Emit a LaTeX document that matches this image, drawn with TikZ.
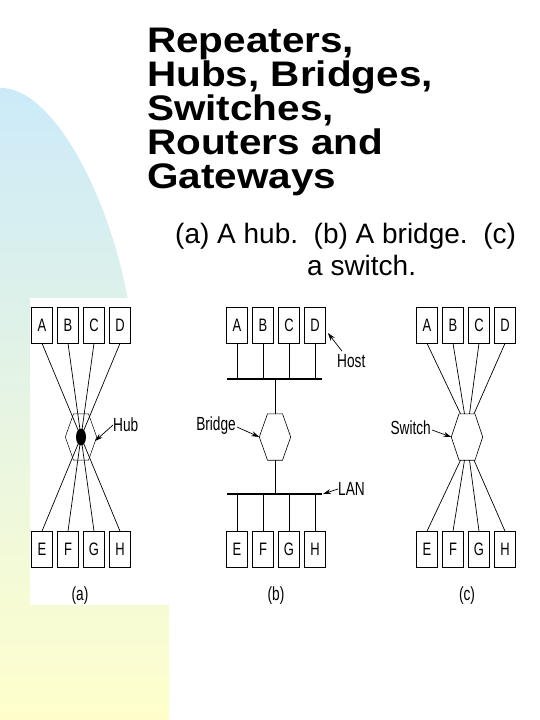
\documentclass[tikz,border=0pt]{standalone}
\usepackage{fontspec}
\setmainfont{Liberation Sans}
\newfontfamily\condfont[FakeStretch=0.72]{Liberation Sans}
\newfontfamily\titlefont[FakeStretch=1.14]{Liberation Sans}
\usetikzlibrary{arrows.meta,calc,shapes.geometric}
\definecolor{bgblue}{RGB}{204,234,250}
\definecolor{bgyellow}{RGB}{255,255,204}
\begin{document}
\begin{tikzpicture}[x=1pt,y=-1pt,
  hostbox/.style={draw,line width=0.7pt,minimum width=21pt,minimum height=36pt,inner sep=0pt,font=\condfont\fontsize{18}{18}\selectfont},
  wire/.style={line width=0.7pt},
  busline/.style={line width=2.6pt},
  lbl/.style={font=\condfont\fontsize{19}{19}\selectfont,inner sep=0pt},
  ptr/.style={line width=0.7pt,-{Stealth[length=8pt,width=5pt]}},
  hexnode/.style={minimum width=31pt,minimum height=46pt,inner sep=0pt},
  hexline/.style={line width=0.6pt},
  titleline/.style={font=\titlefont\bfseries\fontsize{35.5}{35.5}\selectfont,inner sep=0pt,anchor=base west},
  subline/.style={font=\fontsize{28}{28}\selectfont,inner sep=0pt,anchor=base west},
]
\useasboundingbox (0,0) rectangle (540,720);
\fill[white] (0,0) rectangle (540,720);
\shade[top color=bgblue,bottom color=bgyellow] (0,88) .. controls (50,86) and (108,190) .. (128,300) .. controls (148,410) and (166,540) .. (169,605) -- (169,720) -- (0,720) -- cycle;
\fill[white] (30,298) rectangle (540,605);

% title
\node[titleline] (t1) at (147,52) {Repeaters,};
\node[titleline] (t2) at (147,86) {Hubs, Bridges,};
\node[titleline] (t3) at (147,120) {Switches,};
\node[titleline] (t4) at (147,154) {Routers and};
\node[titleline] (t5) at (147,188) {Gateways};
\node[subline] (s1) at (175,243) {(a) A hub.\ \ (b) A bridge.\ \ (c)};
\node[subline] (s2) at (307,275) {a switch.};

% ---------- (a) hub ----------
\node[hostbox] (aA) at (42,325) {A};
\node[hostbox] (aB) at (68,325) {B};
\node[hostbox] (aC) at (94,325) {C};
\node[hostbox] (aD) at (120,325) {D};
\node[hostbox] (aE) at (42,549.5) {E};
\node[hostbox] (aF) at (68,549.5) {F};
\node[hostbox] (aG) at (94,549.5) {G};
\node[hostbox] (aH) at (120,549.5) {H};
\node[hexnode] (hub) at (81,437) {};
\draw[line width=0.5pt] ($(hub.north)+(-7.5,0)$) -- ($(hub.north)+(7.5,0)$) -- (hub.east) -- ($(hub.south)+(7.5,0)$) -- ($(hub.south)+(-7.5,0)$) -- (hub.west) -- cycle;
\foreach \n in {aA,aB,aC,aD} \draw[wire] (\n.south) -- (hub.center);
\foreach \n in {aE,aF,aG,aH} \draw[wire] (\n.north) -- (hub.center);
\node[ellipse,fill=black,minimum width=10pt,minimum height=17pt,inner sep=0pt] (hubdot) at (hub.center) {};
\node[lbl,anchor=west] (hublbl) at (113,425) {Hub};
\coordinate (hubtip) at (95,441);
\draw[ptr] (hublbl.west) -- (hubtip);
\node[lbl] (la) at (80,596) {(a)};

% ---------- (b) bridge ----------
\node[hostbox] (bA) at (237,325) {A};
\node[hostbox] (bB) at (263,325) {B};
\node[hostbox] (bC) at (289,325) {C};
\node[hostbox] (bD) at (315,325) {D};
\node[hostbox] (bE) at (237,549.5) {E};
\node[hostbox] (bF) at (263,549.5) {F};
\node[hostbox] (bG) at (289,549.5) {G};
\node[hostbox] (bH) at (315,549.5) {H};
\coordinate (bus1w) at (227,379);
\coordinate (bus1e) at (322,379);
\coordinate (bus2w) at (227,494);
\coordinate (bus2e) at (322,494);
\draw[busline] (bus1w) -- (bus1e);
\draw[busline] (bus2w) -- (bus2e);
\foreach \n in {bA,bB,bC,bD} \draw[wire] (\n.south) -- (\n.south |- bus1w);
\foreach \n in {bE,bF,bG,bH} \draw[wire] (\n.north) -- (\n.north |- bus2w);
\node[hexnode] (br) at (275,437) {};
\draw[hexline] ($(br.north)+(-7.5,0)$) -- ($(br.north)+(7.5,0)$) -- (br.east) -- ($(br.south)+(7.5,0)$) -- ($(br.south)+(-7.5,0)$) -- (br.west) -- cycle;
\draw[wire] (br.north) -- (br.north |- bus1w);
\draw[wire] (br.south) -- (br.south |- bus2w);
\node[lbl,anchor=west] (host) at (337,361) {Host};
\coordinate (hosttail) at ($(host.north west)+(5,-3)$);
\coordinate (hosttip) at ($(bD.east)+(2,8)$);
\draw[ptr] (hosttail) -- (hosttip);
\node[lbl,anchor=east] (brl) at (236,426) {Bridge};
\draw[ptr] ($(brl.east)+(1,1)$) -- (br.west);
\node[lbl,anchor=west] (lan) at (338,489) {LAN};
\draw[ptr] (lan.west) -- ($(bus2e)+(1,0)$);
\node[lbl] (lb) at (276,596) {(b)};

% ---------- (c) switch ----------
\node[hostbox] (cA) at (427,325) {A};
\node[hostbox] (cB) at (453,325) {B};
\node[hostbox] (cC) at (479,325) {C};
\node[hostbox] (cD) at (505,325) {D};
\node[hostbox] (cE) at (427,549.5) {E};
\node[hostbox] (cF) at (453,549.5) {F};
\node[hostbox] (cG) at (479,549.5) {G};
\node[hostbox] (cH) at (505,549.5) {H};
\node[hexnode] (sw) at (467,437) {};
\draw[hexline] ($(sw.north)+(-8,0)$) -- ($(sw.north)+(8,0)$) -- (sw.east) -- ($(sw.south)+(8,0)$) -- ($(sw.south)+(-8,0)$) -- (sw.west) -- cycle;
\draw[wire] (cA.south) -- ($(sw.north)+(-6.5,0)$);
\draw[wire] (cB.south) -- ($(sw.north)+(-2.5,0)$);
\draw[wire] (cC.south) -- ($(sw.north)+(2.5,0)$);
\draw[wire] (cD.south) -- ($(sw.north)+(7,0)$);
\draw[wire] (cE.north) -- ($(sw.south)+(-6.5,0)$);
\draw[wire] (cF.north) -- ($(sw.south)+(-2.5,0)$);
\draw[wire] (cG.north) -- ($(sw.south)+(2.5,0)$);
\draw[wire] (cH.north) -- ($(sw.south)+(7,0)$);
\node[lbl,anchor=east] (swl) at (431,428) {Switch};
\draw[ptr] ($(swl.east)+(1,2)$) -- (sw.west);
\node[lbl] (lc) at (467,596) {(c)};
\end{tikzpicture}
\end{document}
